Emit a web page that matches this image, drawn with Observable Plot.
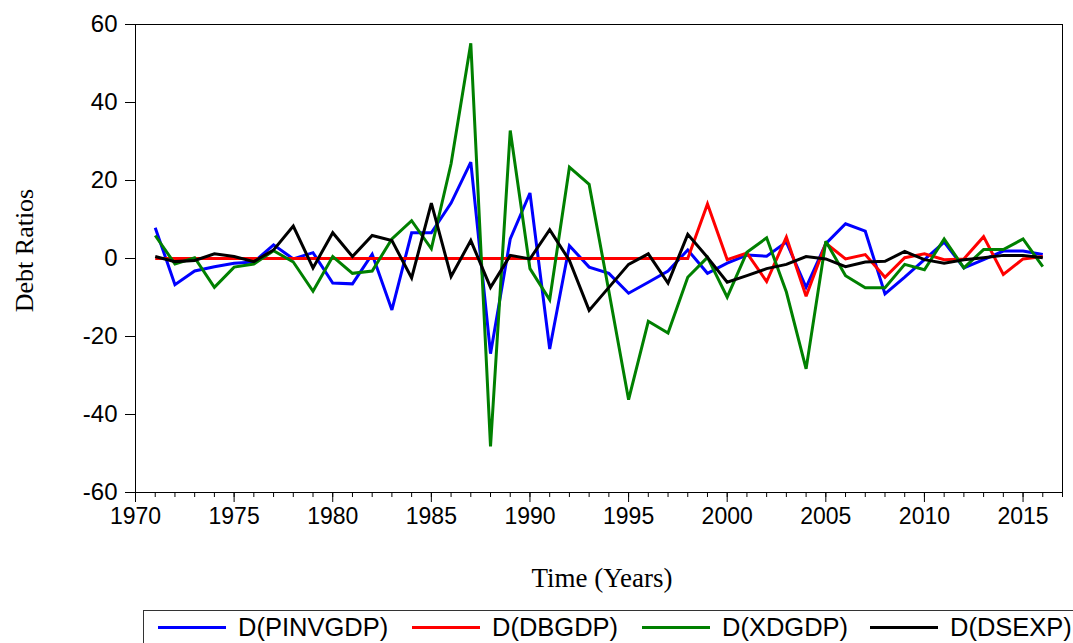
<!DOCTYPE html>
<html>
<head>
<meta charset="utf-8">
<script src="https://cdn.jsdelivr.net/npm/d3@7"></script>
<script src="https://cdn.jsdelivr.net/npm/@observablehq/plot@0.6"></script>
<style>
  html, body { margin: 0; padding: 0; background: white; }
  body { width: 1073px; height: 643px; overflow: hidden; position: relative; }
  #chart { position: absolute; left: 0; top: 0; }
  #legend { position: absolute; left: 143px; top: 610px; width: 960px; height: 44px; border: 1px solid #333; box-sizing: border-box; }
  .sw { position: absolute; height: 3px; top: 626px; }
  .lt { position: absolute; top: 611px; font-family: "Liberation Sans", Arial, sans-serif; font-size: 25.5px; line-height: 32px; color: black; white-space: nowrap; }
</style>
</head>
<body>
<div id="chart"></div>
<div id="legend"></div>
<script>
const years = [1971,1972,1973,1974,1975,1976,1977,1978,1979,1980,1981,1982,1983,1984,1985,1986,1987,1988,1989,1990,1991,1992,1993,1994,1995,1996,1997,1998,1999,2000,2001,2002,2003,2004,2005,2006,2007,2008,2009,2010,2011,2012,2013,2014,2015,2016];
const pinvgdp = [7.9,-6.7,-3.2,-2.1,-1.2,-0.9,3.5,-0.1,1.5,-6.3,-6.5,1.1,-13.2,6.6,6.6,14.2,24.7,-24.4,5.0,16.8,-23.2,3.3,-2.2,-3.8,-8.9,-6.1,-3.2,2.2,-3.8,-1.2,0.9,0.6,4.2,-7.4,3.8,8.9,7.0,-9.1,-4.8,-0.3,4.2,-2.4,-0.3,1.9,1.9,1.0];
const dbgdp = [0,0,0,0,0,0,0,0,0,0,0,0,0,0,0,0,0,0,0,0,0,0,0,0,0,0,0,0,14.0,-0.3,1.4,-5.9,5.5,-9.7,3.9,-0.1,1.0,-4.8,0.2,1.2,-0.3,-0.1,5.6,-4.1,-0.1,0.5];
const xdgdp = [5.9,-1.4,0.2,-7.4,-2.2,-1.4,2.0,-0.9,-8.4,0.5,-3.8,-3.2,5.0,9.7,2.5,24.3,55.2,-48.2,32.8,-2.6,-10.6,23.4,19.0,-8.4,-36.2,-16.1,-19.1,-4.8,0.3,-9.9,1.6,5.3,-8.6,-28.3,4.4,-4.4,-7.5,-7.5,-1.5,-2.9,5.0,-2.4,2.3,2.3,5.0,-2.1];
const dsexp = [0.5,-0.8,-0.5,1.2,0.5,-0.8,2.2,8.3,-2.4,6.6,0.5,5.9,4.6,-5.0,14.2,-4.6,4.6,-7.4,0.8,-0.1,7.4,-0.5,-13.3,-7.4,-1.5,1.2,-6.3,6.2,0.3,-6.1,-4.4,-2.6,-1.5,0.5,-0.1,-2.1,-0.9,-0.7,1.8,-0.3,-1.2,-0.3,0.2,0.8,0.8,0.2];
const seriesNames = ["D(PINVGDP)", "D(DBGDP)", "D(XDGDP)", "D(DSEXP)"];
const seriesColors = ["#0000ff", "#ff0000", "#008000", "#000000"];
const xTicks = [1970,1975,1980,1985,1990,1995,2000,2005,2010,2015];
const xMinorTicks = [1970,1971,1972,1973,1974,1975,1976,1977,1978,1979,1980,1981,1982,1983,1984,1985,1986,1987,1988,1989,1990,1991,1992,1993,1994,1995,1996,1997,1998,1999,2000,2001,2002,2003,2004,2005,2006,2007,2008,2009,2010,2011,2012,2013,2014,2015,2016,2017];
const yTicks = [-60,-40,-20,0,20,40,60];
const yLabel = "Debt Ratios";
const xLabel = "Time (Years)";

const seriesValues = [pinvgdp, dbgdp, xdgdp, dsexp];
const rows = seriesNames.flatMap((name, i) => years.map((year, j) => ({series: name, year, value: seriesValues[i][j]})));

const chart = Plot.plot({
  width: 1073,
  height: 600,
  marginLeft: 135,
  marginRight: 11,
  marginTop: 24,
  marginBottom: 108,
  x: {domain: [1970, 2017]},
  y: {domain: [-60, 60]},
  color: {domain: seriesNames, range: seriesColors},
  style: {fontFamily: "'Liberation Sans', Arial, sans-serif", fontSize: "23px", color: "black", background: "white"},
  marks: [
    Plot.axisX({ticks: xMinorTicks, tickSize: 5, text: null, label: null}),
    Plot.axisX({ticks: xTicks, tickSize: 10, tickPadding: 5, tickFormat: d => String(d), label: null, fontSize: 23}),
    Plot.axisY({ticks: yTicks, tickSize: 10, tickPadding: 8, tickFormat: d => String(d), label: null, fontSize: 24}),
    Plot.line(rows, {x: "year", y: "value", z: "series", stroke: "series", strokeWidth: 3, strokeLinejoin: "miter", strokeMiterlimit: 3, strokeLinecap: "butt"}),
    Plot.frame({stroke: "black", strokeWidth: 1}),
    Plot.text([yLabel], {text: d => d, frameAnchor: "left", textAnchor: "middle", lineAnchor: "middle", dx: -111, dy: -8, rotate: -90, fontFamily: "'Liberation Serif', 'Times New Roman', serif", fontSize: 26}),
    Plot.text([xLabel], {text: d => d, frameAnchor: "bottom", textAnchor: "middle", lineAnchor: "middle", dx: 3, dy: 86, fontFamily: "'Liberation Serif', 'Times New Roman', serif", fontSize: 27})
  ]
});
document.getElementById("chart").appendChild(chart);

const legendSwatchX = [158, 412, 642, 870];
const body = document.body;
seriesNames.forEach((name, i) => {
  const sw = document.createElement("div");
  sw.className = "sw";
  sw.style.left = legendSwatchX[i] + "px";
  sw.style.width = "68px";
  sw.style.background = seriesColors[i];
  body.appendChild(sw);
  const t = document.createElement("div");
  t.className = "lt";
  t.style.left = (legendSwatchX[i] + 80) + "px";
  t.textContent = name;
  body.appendChild(t);
});
</script>
</body>
</html>
